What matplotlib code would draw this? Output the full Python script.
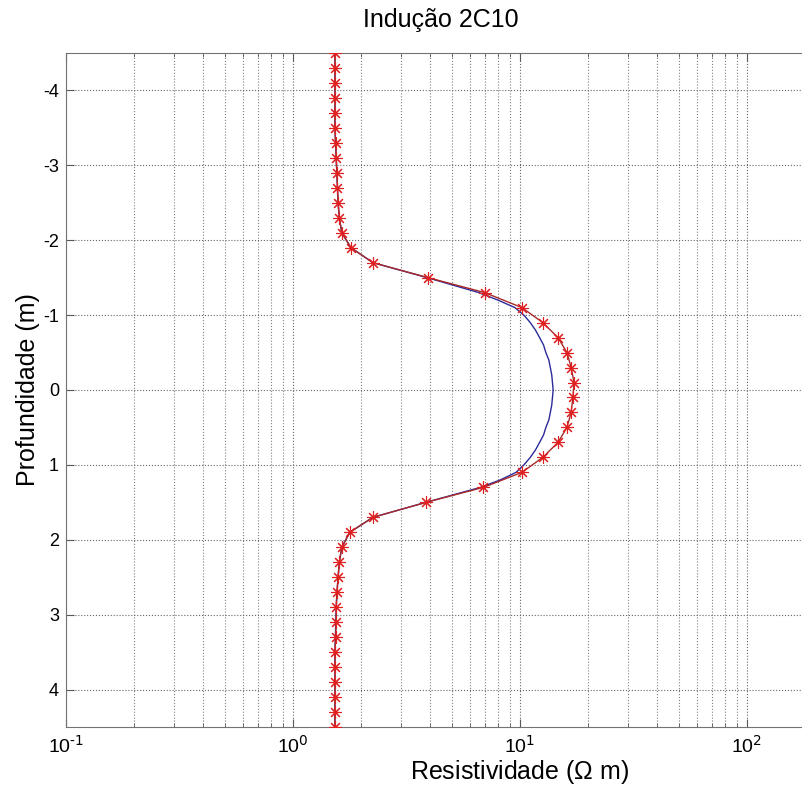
import math
import matplotlib
matplotlib.use("Agg")
import matplotlib.pyplot as plt
from matplotlib.ticker import FixedLocator, LogLocator, FuncFormatter, NullFormatter

plt.rcParams['font.family'] = ['Liberation Sans', 'DejaVu Sans']
plt.rcParams['mathtext.default'] = 'regular'
plt.rcParams['axes.unicode_minus'] = False

# measured curve (red, with markers)
prof_med = [-4.5, -4.3, -4.1, -3.9, -3.7, -3.5, -3.3, -3.1, -2.9, -2.7, -2.5, -2.3,
            -2.1, -1.9, -1.7, -1.5, -1.3, -1.1, -0.9, -0.7, -0.5, -0.3, -0.1,
            0.1, 0.3, 0.5, 0.7, 0.9, 1.1, 1.3, 1.5, 1.7, 1.9, 2.1, 2.3, 2.5, 2.7,
            2.9, 3.1, 3.3, 3.5, 3.7, 3.9, 4.1, 4.3, 4.5]
res_med = [1.53, 1.53, 1.53, 1.53, 1.53, 1.53, 1.54, 1.55, 1.56, 1.57, 1.58, 1.60,
           1.64, 1.80, 2.25, 3.94, 7.0, 10.2, 12.6, 14.7, 16.1, 16.8, 17.3,
           17.1, 16.8, 16.1, 14.7, 12.6, 10.2, 6.9, 3.86, 2.25, 1.78, 1.64, 1.60,
           1.58, 1.56, 1.55, 1.55, 1.54, 1.53, 1.53, 1.53, 1.53, 1.53, 1.53]

# model curve (blue)
prof_mod = [-4.5, -3.5, -2.9, -2.5, -2.3, -2.1, -1.9, -1.7, -1.5, -1.3, -1.2, -1.1,
            -1.0, -0.9, -0.8, -0.7, -0.6, -0.5, -0.4, -0.3, -0.2, -0.1, 0.0,
            0.1, 0.2, 0.3, 0.4, 0.5, 0.6, 0.7, 0.8, 0.9, 1.0, 1.1, 1.2, 1.3,
            1.5, 1.7, 1.9, 2.1, 2.3, 2.5, 2.9, 3.5, 4.5]
res_mod = [1.53, 1.53, 1.56, 1.58, 1.60, 1.64, 1.80, 2.25, 3.9, 6.6, 8.0, 9.5,
           10.4, 11.1, 11.7, 12.2, 12.7, 13.0, 13.4, 13.6, 13.8, 13.9, 14.0,
           13.9, 13.8, 13.6, 13.4, 13.0, 12.7, 12.2, 11.7, 11.1, 10.4, 9.6, 8.2, 6.7,
           3.85, 2.25, 1.78, 1.64, 1.60, 1.58, 1.55, 1.53, 1.53]

x_ticks = [0.1, 1, 10, 100]
y_ticks = [-4, -3, -2, -1, 0, 1, 2, 3, 4]


def pow_label(v, pos):
    e = round(math.log10(v))
    return r'$10^{\text{%d}}$' % e


fig = plt.figure(figsize=(8.03, 7.97), dpi=100)
# axes runs past the right edge (reference is cropped there)
ax = fig.add_axes([66 / 803, 70 / 797, 4 * 227 / 803, 674 / 797])

ax.plot(res_mod, prof_mod, '-', color='#2b2b9a', linewidth=1.0, zorder=3)
ax.plot(res_med, prof_med, '-', color='#a82a2a', linewidth=1.0,
        marker=(8, 2, 0), markersize=9, markeredgecolor='#e02020',
        markeredgewidth=0.8, zorder=4)

ax.set_xscale('log')
ax.set_xlim(0.1, 1000)
ax.set_ylim(4.5, -4.5)

ax.yaxis.set_major_locator(FixedLocator(y_ticks))
ax.xaxis.set_major_locator(FixedLocator(x_ticks))
ax.xaxis.set_minor_locator(LogLocator(base=10, subs=range(2, 10)))
ax.xaxis.set_minor_formatter(NullFormatter())
ax.xaxis.set_major_formatter(FuncFormatter(pow_label))

ax.tick_params(axis='both', which='both', direction='in', top=True, right=True,
               color='0.35')
ax.tick_params(axis='both', which='major', length=6)
ax.tick_params(axis='x', which='minor', length=3)
ax.tick_params(axis='x', pad=6, labelsize=14)
ax.tick_params(axis='y', pad=5, labelsize=13)

ax.grid(True, which='major', linestyle=':', color='0.4', linewidth=0.8)
ax.grid(True, which='minor', axis='x', linestyle=':', color='0.5', linewidth=0.8)

for s in ax.spines.values():
    s.set_color('0.45')

ax.set_xlabel(r'Resistividade ($\Omega$ m)', fontsize=18, labelpad=1)
ax.set_ylabel('Profundidade (m)', fontsize=18, labelpad=2)
fig.text(441 / 803, 1 - 20 / 797, 'Indução 2C10', fontsize=18, ha='center', va='center')

fig.savefig('out.png', dpi=100)
